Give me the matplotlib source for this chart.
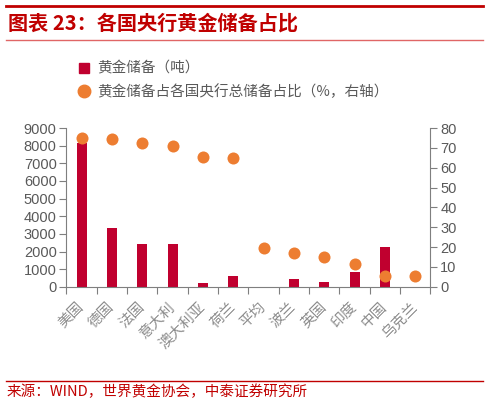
import matplotlib
matplotlib.use('Agg')
import matplotlib.pyplot as plt
from matplotlib.lines import Line2D
import numpy as np

plt.rcParams['font.family'] = ['Noto Sans CJK SC', 'DejaVu Sans']

# data
countries = ['美国', '德国', '法国', '意大利', '澳大利亚', '荷兰', '平均',
             '波兰', '英国', '印度', '中国', '乌克兰']
gold_tons = [8133, 3355, 2436, 2452, 230, 612, 0, 440, 300, 830, 2270, 0]
gold_share = [75.1, 74.4, 72.4, 70.9, 65.5, 65.0, 19.4, 16.8, 15.0, 11.5, 5.6, 5.4]

bar_color = '#C0002F'
dot_color = '#ED7D31'
grey = '#7F7F7F'
red = '#C00000'

fig = plt.figure(figsize=(4.88, 4.04), dpi=100)
ax = fig.add_axes([0.136, 0.290, 0.746, 0.393])
ax2 = ax.twinx()

x = np.arange(len(countries))
bars = ax.bar(x, gold_tons, width=0.33, color=bar_color, zorder=2)
dots = ax2.scatter(x, gold_share, s=75, color=dot_color, zorder=3, linewidths=0)

ax.set_xlim(-0.5, len(countries) - 0.5)
ax.set_ylim(0, 9000)
ax.set_yticks(range(0, 9001, 1000))
ax2.set_ylim(0, 80)
ax2.set_yticks(range(0, 81, 10))

ax.set_zorder(ax2.get_zorder() - 1)
ax.patch.set_visible(False)

for a in (ax, ax2):
    a.spines['top'].set_visible(False)
    for s in ('left', 'right', 'bottom'):
        a.spines[s].set_color(grey)
    a.tick_params(axis='y', colors=grey, labelcolor='#595959', length=5, pad=2)
    for lab in a.get_yticklabels():
        lab.set_family('Liberation Sans')
        lab.set_fontsize(10.5)
ax.spines['right'].set_visible(False)
ax2.spines['left'].set_visible(False)
ax2.spines['bottom'].set_visible(False)

# category ticks sit between the bars
ax.set_xticks(np.arange(-0.5, len(countries)), minor=False)
ax.set_xticklabels([])
ax.set_xticks(x, minor=True)
ax.set_xticklabels(countries, minor=True, rotation=45, ha='right', va='center',
                   rotation_mode='anchor', fontsize=10.5, color='#8C8C8C')
ax.tick_params(axis='x', which='minor', length=0, pad=13)
ax.tick_params(axis='x', which='major', length=5, color=grey)

leg_handles = [
    Line2D([], [], marker='s', color=bar_color, linestyle='none', markersize=7.5),
    Line2D([], [], marker='o', color=dot_color, linestyle='none', markersize=9),
]
fig.legend(leg_handles, ['黄金储备（吨）', '黄金储备占各国央行总储备占比（%，右轴）'],
           loc='upper left', bbox_to_anchor=(0.148, 0.862), frameon=False,
           fontsize=10.5, labelcolor='#595959', handletextpad=0.5,
           labelspacing=0.6, handlelength=0.8, borderaxespad=0)

# header and footer
fig.add_artist(Line2D([0.012, 0.99], [1 - 6 / 404] * 2, color=red, lw=2))
fig.add_artist(Line2D([0.012, 0.99], [1 - 40 / 404] * 2, color='#E06666', lw=1))
fig.text(0.016, 1 - 23 / 404, '图表 23：各国央行黄金储备占比', color=red,
         fontsize=14.5, fontweight='bold', fontstyle='italic', va='center', ha='left')
fig.add_artist(Line2D([0.012, 0.99], [1 - 381 / 404] * 2, color=red, lw=1))
fig.text(0.014, 1 - 392 / 404, '来源：WIND，世界黄金协会，中泰证券研究所', color=red,
         fontsize=10.5, va='center', ha='left')

fig.savefig('out.png', dpi=100)
